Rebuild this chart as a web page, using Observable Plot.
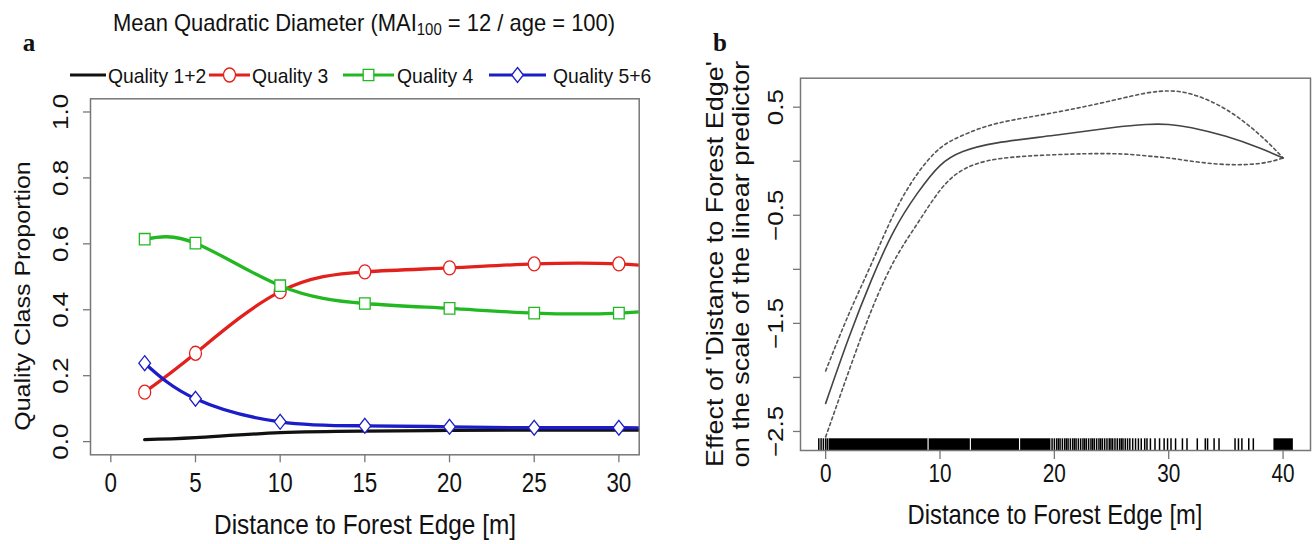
<!DOCTYPE html>
<html><head><meta charset="utf-8">
<script src="https://cdn.jsdelivr.net/npm/d3@7"></script>
<script src="https://cdn.jsdelivr.net/npm/@observablehq/plot@0.6"></script>
<style>
body{margin:0;background:#fff;}
#root{position:relative;width:1315px;height:544px;overflow:hidden;font-family:"Liberation Sans",Arial,sans-serif;color:#111;}
.abs{position:absolute;white-space:nowrap;line-height:1;}
.rot{transform:translate(-50%,-50%) scaleX(0.86) rotate(-90deg);text-align:center;}
.panel{position:absolute;top:0;}
sub{font-size:0.68em;vertical-align:-0.25em;line-height:0;}
</style></head><body><div id="root"></div>
<script>
// ---------- Panel a data ----------
const seriesNames = ["Quality 1+2", "Quality 3", "Quality 4", "Quality 5+6"];
const seriesColors = ["#111111", "#e3211c", "#22b822", "#1c1cc8"];
const distA = [2, 5, 10, 15, 20, 25, 30, 35];
const q12  = [0.006, 0.012, 0.027, 0.032, 0.034, 0.035, 0.035, 0.035];
const q3   = [0.150, 0.268, 0.455, 0.515, 0.527, 0.539, 0.539, 0.520];
const q4   = [0.614, 0.602, 0.473, 0.419, 0.404, 0.390, 0.390, 0.410];
const q56  = [0.238, 0.130, 0.060, 0.048, 0.045, 0.042, 0.042, 0.040];
const markerMaxDist = 30;
const xTicksA = [0, 5, 10, 15, 20, 25, 30];
const yTicksA = [0, 0.2, 0.4, 0.6, 0.8, 1.0];
const yLabelsA = ["0.0", "0.2", "0.4", "0.6", "0.8", "1.0"];

// ---------- Panel b data ----------
const distB  = [0, 2, 4, 6, 8, 10, 12, 15, 20, 25, 28, 30, 32, 35, 38, 40];
const fitB   = [-2.24, -1.64, -1.10, -0.64, -0.30, -0.04, 0.09, 0.17, 0.24, 0.31, 0.34, 0.34, 0.31, 0.23, 0.12, 0.03];
const upperB = [-1.94, -1.42, -0.95, -0.48, -0.12, 0.12, 0.24, 0.35, 0.45, 0.56, 0.63, 0.65, 0.62, 0.48, 0.24, 0.03];
const lowerB = [-2.55, -1.95, -1.38, -0.92, -0.58, -0.27, -0.08, 0.02, 0.06, 0.07, 0.05, 0.03, 0.00, -0.03, -0.02, 0.03];
const rugBlocks = [[0.3, 8.95], [9.05, 12.65], [12.75, 16.95], [17.05, 19.7], [39.2, 40.9]];
const rugTicks = [-0.6, -0.4, -0.2, 0.0, 0.15,
  19.8, 20.0, 20.2, 20.35, 20.5, 20.7, 20.9, 21.05, 21.2, 21.4, 21.6, 21.75, 21.9, 22.1, 22.3, 22.5, 22.65, 22.8, 23.0, 23.2, 23.35, 23.5, 23.7, 23.9, 24.05, 24.2, 24.4, 24.6, 24.8, 24.95, 25.1, 25.3, 25.5, 25.7, 25.85, 26.0, 26.2, 26.4,
  26.6, 26.85, 27.1, 27.35, 27.6, 27.9, 28.1, 28.4, 28.8, 29.2, 29.6, 29.9, 30.2, 30.6, 31.2, 31.6, 32.5, 33.2, 33.4, 33.97, 34.4, 35.8, 36.1, 36.4, 37.0, 37.4];
const xTicksB = [0, 10, 20, 30, 40];
const yTicksB = [0.5, 0, -0.5, -1, -1.5, -2, -2.5];
const yLabelsB = ["0.5", "", "\u22120.5", "", "\u22121.5", "", "\u22122.5"];

// ---------- symbols ----------
const symCircle = {draw(ctx, size) { const r = Math.sqrt(size / Math.PI); const rx = r * 0.92, ry = r * 1.08, k = 0.5523; ctx.moveTo(rx, 0); ctx.bezierCurveTo(rx, ry * k, rx * k, ry, 0, ry); ctx.bezierCurveTo(-rx * k, ry, -rx, ry * k, -rx, 0); ctx.bezierCurveTo(-rx, -ry * k, -rx * k, -ry, 0, -ry); ctx.bezierCurveTo(rx * k, -ry, rx, -ry * k, rx, 0); ctx.closePath(); }};
const symSquare = {draw(ctx, size) { const r = Math.sqrt(size / Math.PI); const w = r * 0.82, h = r * 0.88; ctx.rect(-w, -h, 2 * w, 2 * h); }};
const symDiamond = {draw(ctx, size) { const r = Math.sqrt(size / Math.PI); ctx.moveTo(0, -r * 1.15); ctx.lineTo(r * 0.9, 0); ctx.lineTo(0, r * 1.15); ctx.lineTo(-r * 0.9, 0); ctx.closePath(); }};
const seriesSymbols = [null, symCircle, symSquare, symDiamond];
const seriesValues = [q12, q3, q4, q56];

const sans = '"Liberation Sans",Arial,sans-serif';
const root = document.getElementById("root");

// squeeze horizontal tick labels / rotated tick labels (the reference is horizontally compressed)
function squeeze(svg, sx, sy) {
  svg.querySelectorAll('g[aria-label="x-axis tick label"] text').forEach(t => t.setAttribute("transform", (t.getAttribute("transform") || "") + ` scale(${sx},1)`));
  svg.querySelectorAll('g[aria-label="y-axis tick label"] text').forEach(t => t.setAttribute("transform", (t.getAttribute("transform") || "") + ` scale(1,${sy})`));
}

// ---------- Panel a ----------
const marksA = [
  Plot.frame({stroke: "#777", strokeWidth: 1.5}),
  Plot.axisX({ticks: xTicksA, tickSize: 8, tickPadding: 10, stroke: "#777", strokeWidth: 1.3, fill: "#111", fontSize: 27, fontFamily: sans, label: null}),
  Plot.axisY({ticks: yTicksA, tickSize: 7, tickPadding: 16, tickRotate: -90, tickFormat: d => yLabelsA[yTicksA.indexOf(d)], stroke: "#777", strokeWidth: 1.3, fill: "#111", fontSize: 26, fontFamily: sans, label: null})
];
seriesNames.forEach((name, si) => {
  const rows = distA.map((d, i) => ({dist: d, value: seriesValues[si][i]}));
  marksA.push(Plot.line(rows, {x: "dist", y: "value", stroke: seriesColors[si], strokeWidth: 3.3, curve: "natural", clip: true}));
  if (seriesSymbols[si]) {
    marksA.push(Plot.dot(rows.filter(r => r.dist <= markerMaxDist), {x: "dist", y: "value", symbol: () => seriesSymbols[si], r: 6.5, stroke: seriesColors[si], strokeWidth: 1.3, fill: "white"}));
  }
});
const plotA = Plot.plot({
  width: 660, height: 544,
  marginLeft: 90, marginRight: 21.3, marginTop: 98.3, marginBottom: 89.7,
  x: {domain: [-1.2, 31.2]},
  y: {domain: [-0.04, 1.04]},
  symbol: {type: "identity"},
  style: {background: "transparent", overflow: "visible"},
  marks: marksA
});
squeeze(plotA, 0.83, 0.86);
plotA.classList.add("panel"); plotA.style.left = "0px";
root.appendChild(plotA);

// ---------- Panel b ----------
const rowsFit = distB.map((d, i) => ({dist: d, value: fitB[i]}));
const rowsUp = distB.map((d, i) => ({dist: d, value: upperB[i]}));
const rowsLo = distB.map((d, i) => ({dist: d, value: lowerB[i]}));
const plotB = Plot.plot({
  width: 655, height: 544,
  marginLeft: 140, marginRight: 5, marginTop: 77.7, marginBottom: 94,
  x: {domain: [-2.2, 42.4]},
  y: {domain: [-2.676, 0.768]},
  style: {background: "transparent", overflow: "visible"},
  marks: [
    Plot.rect(rugBlocks, {x1: d => d[0], x2: d => d[1], insetTop: 360.6, fill: "#000"}),
    Plot.tickX(rugTicks, {x: d => d, insetTop: 360.6, stroke: "#000", strokeWidth: 1.5}),
    Plot.line(rowsUp, {x: "dist", y: "value", stroke: "#555", strokeWidth: 1.6, strokeDasharray: "3,3", curve: "natural"}),
    Plot.line(rowsLo, {x: "dist", y: "value", stroke: "#555", strokeWidth: 1.6, strokeDasharray: "3,3", curve: "natural"}),
    Plot.line(rowsFit, {x: "dist", y: "value", stroke: "#444", strokeWidth: 1.6, curve: "natural"}),
    Plot.frame({stroke: "#777", strokeWidth: 1.5}),
    Plot.axisX({ticks: xTicksB, tickSize: 9, tickPadding: 5, stroke: "#777", strokeWidth: 1.3, fill: "#111", fontSize: 25, fontFamily: sans, label: null}),
    Plot.axisY({ticks: yTicksB, tickSize: 7, tickPadding: 11, tickRotate: -90, tickFormat: d => yLabelsB[yTicksB.indexOf(d)], stroke: "#777", strokeWidth: 1.3, fill: "#111", fontSize: 26, fontFamily: sans, label: null})
  ]
});
squeeze(plotB, 0.83, 0.86);
plotB.classList.add("panel"); plotB.style.left = "660px";
root.appendChild(plotB);

// ---------- texts ----------
function addText(html, x, y, transform, style, origin) {
  const d = document.createElement("div");
  d.className = "abs";
  d.innerHTML = html;
  d.style.left = x + "px"; d.style.top = y + "px";
  d.style.transform = transform;
  if (origin) d.style.transformOrigin = origin;
  Object.assign(d.style, style || {});
  root.appendChild(d);
  return d;
}
function addRot(html, x, y, style) {
  const d = addText(html, x, y, "", style);
  d.className = "abs rot";
  d.style.transform = "";
  return d;
}
addText("Mean Quadratic Diameter (MAI<sub>100</sub> = 12 / age = 100)", 364, 23, "translate(-50%,-50%) scaleX(0.915)", {fontSize: "24px"});
addText("a", 29, 42, "translate(-50%,-50%)", {fontFamily: '"Liberation Serif",serif', fontWeight: "bold", fontSize: "25px"});
addText("b", 720, 42, "translate(-50%,-50%)", {fontFamily: '"Liberation Serif",serif', fontWeight: "bold", fontSize: "25px"});
addText("Distance to Forest Edge [m]", 365, 525, "translate(-50%,-50%) scaleX(0.87)", {fontSize: "28px"});
addText("Distance to Forest Edge [m]", 1055, 515, "translate(-50%,-50%) scaleX(0.85)", {fontSize: "28px"});
addRot("Quality Class Proportion", 23, 296, {fontSize: "25px"});
addRot("Effect of 'Distance to Forest Edge'<br>on the scale of the linear predictor", 729, 264, {fontSize: "27px", lineHeight: "1.1"});

// ---------- legend ----------
const legendItems = [
  {x0: 70, x1: 106, tx: 108},
  {x0: 209, x1: 250, tx: 252},
  {x0: 343, x1: 394, tx: 397},
  {x0: 489, x1: 546, tx: 553}
];
const legY = 75;
legendItems.forEach((it, si) => {
  const svg = d3.create("svg").attr("width", it.x1 - it.x0 + 4).attr("height", 24)
    .style("position", "absolute").style("left", (it.x0 - 2) + "px").style("top", (legY - 12) + "px");
  svg.append("line").attr("x1", 2).attr("x2", it.x1 - it.x0 + 2).attr("y1", 12).attr("y2", 12)
    .attr("stroke", seriesColors[si]).attr("stroke-width", 3);
  if (seriesSymbols[si]) {
    svg.append("path").attr("transform", `translate(${(it.x1 - it.x0) / 2 + 2},12)`)
      .attr("d", d3.symbol(seriesSymbols[si], Math.PI * 6.5 * 6.5)())
      .attr("fill", "white").attr("stroke", seriesColors[si]).attr("stroke-width", 1.3);
  }
  root.appendChild(svg.node());
  addText(seriesNames[si], it.tx, legY, "translateY(-50%) scaleX(0.92)", {fontSize: "21px"}, "left center");
});
</script>
</body></html>
